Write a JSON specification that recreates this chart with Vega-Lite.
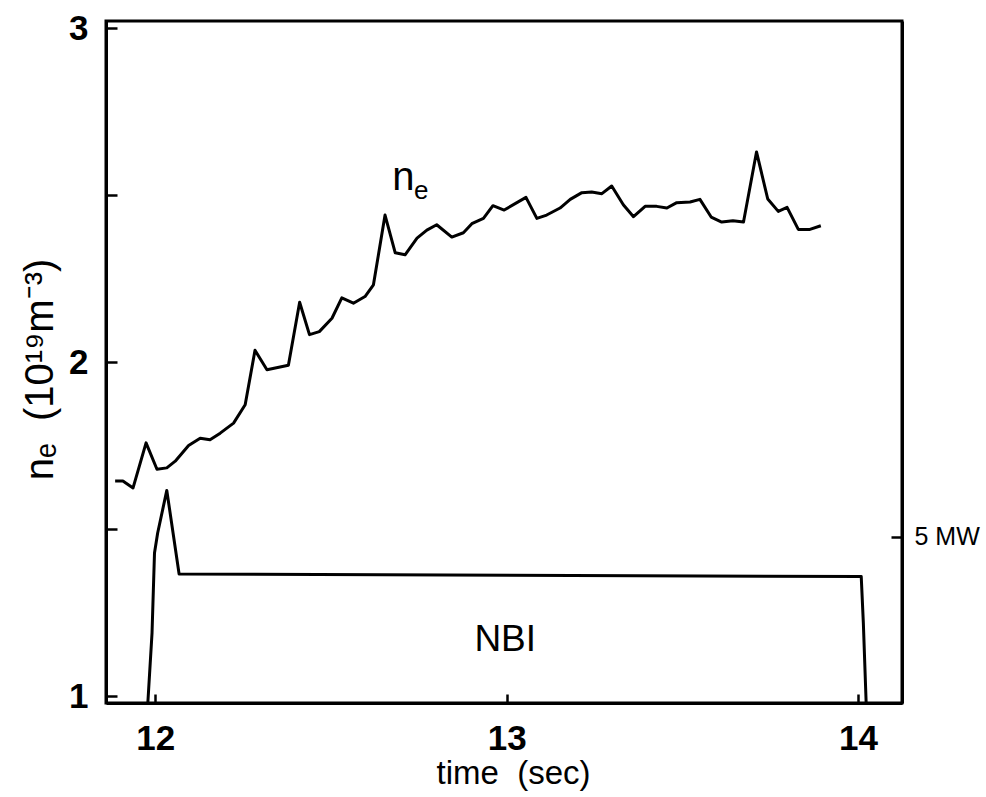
{
  "$schema": "https://vega.github.io/schema/vega-lite/v6.json",
  "width": 796,
  "height": 682,
  "autosize": {"type": "none"},
  "padding": {"left": 106, "top": 21, "right": 84, "bottom": 94},
  "background": "white",
  "config": {
    "view": {"stroke": "black", "strokeWidth": 3},
    "font": "Liberation Sans",
    "axis": {"grid": false, "domainColor": "black", "domainWidth": 3, "tickColor": "black", "tickWidth": 2.5, "labelColor": "black", "titleColor": "black", "labelFlush": false}
  },
  "datasets": {
    "ne": [
      {"t": 11.886, "ne": 1.645}, {"t": 11.908, "ne": 1.645}, {"t": 11.937, "ne": 1.624}, {"t": 11.974, "ne": 1.759},
      {"t": 12.005, "ne": 1.680}, {"t": 12.033, "ne": 1.684}, {"t": 12.057, "ne": 1.704}, {"t": 12.095, "ne": 1.751},
      {"t": 12.128, "ne": 1.773}, {"t": 12.156, "ne": 1.768}, {"t": 12.185, "ne": 1.788}, {"t": 12.223, "ne": 1.818},
      {"t": 12.256, "ne": 1.873}, {"t": 12.284, "ne": 2.036}, {"t": 12.318, "ne": 1.978}, {"t": 12.379, "ne": 1.991},
      {"t": 12.411, "ne": 2.180}, {"t": 12.439, "ne": 2.083}, {"t": 12.467, "ne": 2.092}, {"t": 12.503, "ne": 2.132},
      {"t": 12.531, "ne": 2.193}, {"t": 12.564, "ne": 2.177}, {"t": 12.597, "ne": 2.197}, {"t": 12.621, "ne": 2.232},
      {"t": 12.654, "ne": 2.441}, {"t": 12.683, "ne": 2.328}, {"t": 12.711, "ne": 2.322}, {"t": 12.745, "ne": 2.372},
      {"t": 12.773, "ne": 2.396}, {"t": 12.801, "ne": 2.412}, {"t": 12.844, "ne": 2.375}, {"t": 12.877, "ne": 2.388},
      {"t": 12.901, "ne": 2.415}, {"t": 12.934, "ne": 2.431}, {"t": 12.961, "ne": 2.469}, {"t": 12.993, "ne": 2.456},
      {"t": 13.055, "ne": 2.494}, {"t": 13.086, "ne": 2.431}, {"t": 13.114, "ne": 2.441}, {"t": 13.152, "ne": 2.462},
      {"t": 13.181, "ne": 2.488}, {"t": 13.214, "ne": 2.508}, {"t": 13.242, "ne": 2.510}, {"t": 13.271, "ne": 2.505},
      {"t": 13.299, "ne": 2.528}, {"t": 13.332, "ne": 2.472}, {"t": 13.361, "ne": 2.436}, {"t": 13.394, "ne": 2.467},
      {"t": 13.427, "ne": 2.467}, {"t": 13.456, "ne": 2.462}, {"t": 13.484, "ne": 2.478}, {"t": 13.522, "ne": 2.480},
      {"t": 13.550, "ne": 2.488}, {"t": 13.582, "ne": 2.435}, {"t": 13.612, "ne": 2.420}, {"t": 13.644, "ne": 2.424},
      {"t": 13.674, "ne": 2.420}, {"t": 13.711, "ne": 2.630}, {"t": 13.743, "ne": 2.489}, {"t": 13.773, "ne": 2.452},
      {"t": 13.798, "ne": 2.464}, {"t": 13.830, "ne": 2.398}, {"t": 13.863, "ne": 2.398}, {"t": 13.894, "ne": 2.409}
    ],
    "nbi": [
      {"t": 11.979, "p": 0}, {"t": 11.991, "p": 2.11}, {"t": 11.998, "p": 4.51}, {"t": 12.007, "p": 5.11},
      {"t": 12.033, "p": 6.39}, {"t": 12.068, "p": 3.88}, {"t": 14.009, "p": 3.80}, {"t": 14.015, "p": 2.41},
      {"t": 14.023, "p": 0}
    ]
  },
  "layer": [
    {
      "layer": [
        {
          "data": {"name": "ne"},
          "mark": {"type": "line", "color": "black", "strokeWidth": 3, "strokeJoin": "round"},
          "encoding": {
            "x": {
              "field": "t", "type": "quantitative",
              "scale": {"domain": [11.86, 14.125], "nice": false, "zero": false},
              "axis": {
                "values": [12, 13, 14], "format": "d", "tickSize": -9,
                "labelFontSize": 35, "labelFontWeight": "bold", "labelPadding": 27, "labelBaseline": "top",
                "title": "time\u00a0\u00a0(sec)", "titleFontSize": 33, "titleFontWeight": "normal",
                "titleX": 407, "titleY": 80, "titleBaseline": "alphabetic", "titleAnchor": "middle"
              }
            },
            "y": {
              "field": "ne", "type": "quantitative",
              "scale": {"domain": [0.98, 3.022], "nice": false, "zero": false},
              "axis": {
                "values": [1, 1.5, 2, 2.5, 3], "tickSize": -11,
                "labelExpr": "datum.value % 1 == 0 ? format(datum.value, 'd') : ''",
                "labelFontSize": 35, "labelFontWeight": "bold", "labelPadding": 29, "labelAlign": "right", "labelBaseline": "middle",
                "title": "nₑ\u00a0\u00a0(10¹⁹m⁻³)", "titleFontSize": 40, "titleFontWeight": "normal",
                "titleX": -54, "titleY": 348, "titleAngle": 270, "titleBaseline": "alphabetic", "titleAnchor": "middle"
              }
            }
          }
        },
        {
          "data": {"values": [{"t": 12.706, "ne": 2.552, "label": "n"}]},
          "mark": {"type": "text", "fontSize": 40, "align": "center", "baseline": "middle", "color": "black"},
          "encoding": {
            "x": {"field": "t", "type": "quantitative"},
            "y": {"field": "ne", "type": "quantitative"},
            "text": {"field": "label"}
          }
        },
        {
          "data": {"values": [{"t": 12.757, "ne": 2.512, "label": "e"}]},
          "mark": {"type": "text", "fontSize": 26, "align": "center", "baseline": "middle", "color": "black"},
          "encoding": {
            "x": {"field": "t", "type": "quantitative"},
            "y": {"field": "ne", "type": "quantitative"},
            "text": {"field": "label"}
          }
        },
        {
          "data": {"values": [{"t": 12.996, "ne": 1.17, "label": "NBI"}]},
          "mark": {"type": "text", "fontSize": 37, "align": "center", "baseline": "middle", "color": "black"},
          "encoding": {
            "x": {"field": "t", "type": "quantitative"},
            "y": {"field": "ne", "type": "quantitative"},
            "text": {"field": "label"}
          }
        }
      ]
    },
    {
      "data": {"name": "nbi"},
      "mark": {"type": "line", "color": "black", "strokeWidth": 3, "strokeJoin": "round"},
      "encoding": {
        "x": {"field": "t", "type": "quantitative"},
        "y": {
          "field": "p", "type": "quantitative",
          "scale": {"domain": [0, 20.5], "nice": false},
          "axis": {
            "orient": "right", "values": [5], "tickSize": -11,
            "labelExpr": "datum.value + ' MW'",
            "labelFontSize": 25, "labelPadding": 23, "labelAlign": "left", "labelBaseline": "middle",
            "title": null
          }
        }
      }
    }
  ],
  "resolve": {"scale": {"y": "independent"}}
}
